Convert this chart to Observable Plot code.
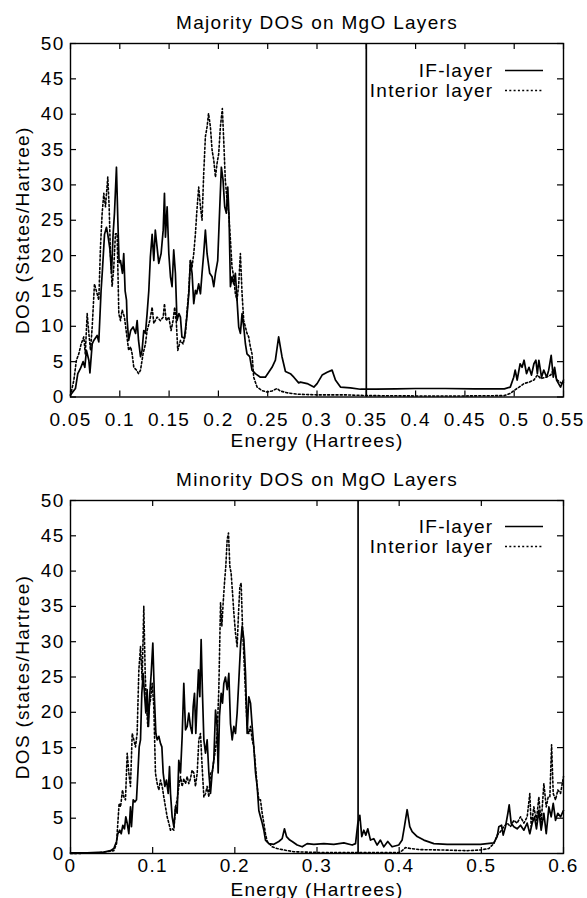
<!DOCTYPE html>
<html><head><meta charset="utf-8">
<script src="https://cdn.jsdelivr.net/npm/d3@7"></script>
<script src="https://cdn.jsdelivr.net/npm/@observablehq/plot@0.6"></script>
<style>html,body{margin:0;padding:0;background:#fff}#c svg{display:block}</style>
</head><body><div id="c"></div><script>
// ---------- data ----------
const majorityIF = [[0.05,0.3],[0.055,1.2],[0.0574,3.3],[0.060,4.0],[0.0628,5.0],[0.0645,4.2],[0.0662,6.6],[0.0686,5.2],[0.0697,3.4],[0.072,7.5],[0.0736,8.0],[0.077,8.7],[0.0787,7.8],[0.081,15],[0.0824,18],[0.0845,23],[0.0865,24],[0.0878,23],[0.0899,21],[0.0916,17.5],[0.0932,23],[0.0946,26],[0.0966,32.5],[0.098,25],[0.0993,19],[0.1007,19.3],[0.1027,17.5],[0.104,20.3],[0.1054,15],[0.1068,13.7],[0.1074,11],[0.109,8],[0.111,9.4],[0.1135,9.9],[0.116,9],[0.1176,10.8],[0.119,8],[0.121,5.7],[0.1226,6.6],[0.1243,9.4],[0.126,9],[0.1277,11.8],[0.1294,15],[0.131,19.8],[0.1328,23],[0.1345,19.3],[0.136,23.6],[0.1378,21.2],[0.1395,18.9],[0.1419,20.3],[0.144,23.6],[0.1453,28.8],[0.1463,22.6],[0.148,26.9],[0.1497,20.3],[0.1514,17],[0.153,15.6],[0.1547,20.8],[0.1564,17.5],[0.158,10.8],[0.16,11.8],[0.1615,11.3],[0.163,8.5],[0.1655,8.3],[0.168,11.3],[0.17,14.6],[0.1716,19.3],[0.1733,17.5],[0.175,13.2],[0.1767,15.1],[0.178,14.6],[0.18,16],[0.1818,14.6],[0.1834,17.5],[0.1851,20.3],[0.1868,23.6],[0.1885,20.3],[0.1912,17.5],[0.1936,17],[0.1953,15.6],[0.197,17.5],[0.1993,19.3],[0.2014,26.9],[0.203,32.5],[0.2047,30.7],[0.2064,26.9],[0.2081,26],[0.2095,29.7],[0.2108,25.5],[0.2122,15.6],[0.2138,17],[0.2155,16],[0.2172,17.5],[0.2189,13.7],[0.2206,9.9],[0.2223,9],[0.224,11.8],[0.2257,9.9],[0.2274,7.5],[0.229,6.1],[0.2318,5.7],[0.2341,3.8],[0.2375,3.3],[0.2426,2.8],[0.2476,2.8],[0.251,3.5],[0.2544,4.2],[0.2578,5.2],[0.2611,8.5],[0.2645,5.7],[0.268,3.6],[0.273,3.3],[0.2765,2.8],[0.2814,2.0],[0.2832,2.1],[0.29,1.9],[0.2968,1.4],[0.3001,1.9],[0.3052,3.1],[0.3103,3.5],[0.3153,3.8],[0.3187,2.4],[0.3238,1.4],[0.3339,1.3],[0.344,1.1],[0.36,1.1],[0.38,1.15],[0.40,1.2],[0.43,1.2],[0.46,1.15],[0.49,1.15],[0.496,1.4],[0.4995,2.8],[0.501,3.8],[0.503,2.4],[0.506,4.7],[0.508,4.2],[0.51,5.2],[0.5125,3.3],[0.515,4.2],[0.5175,3.1],[0.52,4.7],[0.522,5.2],[0.5235,3.3],[0.525,5.2],[0.5277,2.8],[0.53,3.8],[0.533,2.8],[0.535,3.8],[0.5375,5.9],[0.5396,2.8],[0.541,4.2],[0.543,2.4],[0.545,1.9],[0.547,1.4],[0.55,2.4]];
const majorityInterior = [[0.05,0.2],[0.0534,2.4],[0.056,5.2],[0.0584,6.1],[0.0608,7.5],[0.0635,8.5],[0.065,6.1],[0.0669,11.8],[0.0686,9],[0.0703,6.6],[0.072,9.9],[0.0743,16],[0.077,14.6],[0.0787,13.7],[0.0804,21.2],[0.0821,26],[0.0838,28.8],[0.0855,26.9],[0.0878,31.1],[0.0892,26.9],[0.0905,20.3],[0.0922,15.6],[0.0939,18.4],[0.0956,23.1],[0.0973,23.1],[0.099,11.8],[0.1007,10.8],[0.1024,12.3],[0.1047,11.3],[0.1068,9],[0.109,6.6],[0.111,7.1],[0.1125,6.1],[0.1142,4.2],[0.1169,3.8],[0.119,3.3],[0.121,3.8],[0.1236,6.1],[0.126,7.5],[0.1277,9.4],[0.1304,10.8],[0.1328,12.7],[0.1345,10.4],[0.1378,11.3],[0.1412,10.8],[0.144,11.3],[0.1453,13.2],[0.147,10.8],[0.1497,11.3],[0.152,9.4],[0.154,10.8],[0.1557,12.7],[0.1574,10.4],[0.1588,6.6],[0.1615,8],[0.1642,7.5],[0.1666,9],[0.168,11.8],[0.17,15.1],[0.1716,19.3],[0.1733,18.4],[0.175,20.3],[0.1767,23.1],[0.178,26],[0.18,29.7],[0.1818,26.9],[0.1834,25],[0.1851,31.6],[0.1868,36.8],[0.1885,38.2],[0.19,40.1],[0.1919,38.2],[0.1936,34.9],[0.1953,33.5],[0.197,31.1],[0.1986,33],[0.2003,34.4],[0.202,38.2],[0.204,40.8],[0.2054,36.3],[0.207,30.7],[0.2088,27.8],[0.2105,26],[0.2122,22.2],[0.2138,18.4],[0.2155,17],[0.2172,14.6],[0.2189,13.7],[0.2206,16],[0.2223,20.3],[0.224,14.6],[0.2257,10.8],[0.2274,9.9],[0.229,9],[0.2307,8.5],[0.2324,7.1],[0.2341,6.1],[0.2358,2.8],[0.2392,1.4],[0.2443,0.9],[0.2493,0.7],[0.2544,0.85],[0.2595,1.2],[0.2628,0.85],[0.2696,0.6],[0.2797,0.4],[0.30,0.3],[0.33,0.3],[0.35,0.2],[0.40,0.15],[0.45,0.15],[0.49,0.2],[0.496,0.5],[0.4995,0.9],[0.505,1.4],[0.51,1.9],[0.515,2.1],[0.52,2.4],[0.5235,3.1],[0.527,2.6],[0.532,2.8],[0.537,3.1],[0.5396,3.8],[0.5435,2.4],[0.5485,1.9],[0.55,2.1]];
const minorityIF = [[0,0.1],[0.02,0.1],[0.0406,0.2],[0.0487,0.4],[0.0527,0.7],[0.056,1.7],[0.0576,2.8],[0.06,3.3],[0.0617,2.8],[0.0637,4],[0.0657,3.5],[0.0673,5.2],[0.069,4.3],[0.071,2.8],[0.073,6.6],[0.0742,3.8],[0.0763,7.6],[0.0783,7.3],[0.0803,7.6],[0.082,11.4],[0.0836,15.1],[0.0852,16.1],[0.0868,22.7],[0.0884,25.5],[0.09,22.7],[0.0917,19.9],[0.0933,23.2],[0.0949,18],[0.0966,22.7],[0.0982,25.5],[0.1002,29.8],[0.1022,21.8],[0.1039,17],[0.1055,16.1],[0.1075,16.6],[0.1095,15.6],[0.1112,15.1],[0.1128,11.4],[0.1148,9.5],[0.1168,10.4],[0.1189,8.5],[0.1205,12.3],[0.1217,8.5],[0.1237,5.2],[0.1258,3.8],[0.1278,6.6],[0.1298,5.7],[0.1318,13.2],[0.1339,11.4],[0.1359,16.6],[0.1379,24.1],[0.14,17.5],[0.142,18],[0.144,19.9],[0.146,18],[0.148,17],[0.1493,20.8],[0.1509,22.7],[0.1525,17],[0.1542,21.8],[0.1558,26],[0.1574,22.2],[0.159,30.3],[0.1606,22.7],[0.1623,16.1],[0.1643,14.2],[0.1663,16.1],[0.1684,11.4],[0.1704,8.5],[0.1724,11.4],[0.1744,13.2],[0.1765,20.3],[0.1785,18],[0.1797,11.4],[0.1813,19.4],[0.1834,22.7],[0.185,21.3],[0.1866,24.1],[0.1886,25],[0.1907,23.2],[0.1927,25.5],[0.1947,18.4],[0.1968,16.1],[0.1988,18],[0.2008,17],[0.2028,19.9],[0.2049,24.6],[0.2069,29.3],[0.2089,32.2],[0.211,30.3],[0.213,25.5],[0.215,17],[0.217,22.2],[0.2191,21.3],[0.2211,18],[0.2231,15.1],[0.2252,11.4],[0.2272,9.5],[0.2292,6.1],[0.2312,5.2],[0.2333,4.3],[0.2353,3.3],[0.2373,1.9],[0.2414,1.4],[0.2475,1.3],[0.2535,1.7],[0.2576,2.1],[0.2604,3.5],[0.2629,2.4],[0.2669,1.9],[0.2698,1.7],[0.2759,1.2],[0.282,0.95],[0.288,1.4],[0.2962,1.3],[0.3083,1.4],[0.3205,1.3],[0.3327,1.5],[0.3428,1.2],[0.3469,1.4],[0.3497,4.3],[0.3521,5.4],[0.3545,2.4],[0.357,3.3],[0.3594,2.6],[0.3618,3.5],[0.3651,1.9],[0.3691,2.1],[0.3732,1.2],[0.3772,1.9],[0.3813,0.95],[0.3861,1.7],[0.3914,0.95],[0.3995,1.2],[0.4036,1.9],[0.4064,3.8],[0.4097,6.2],[0.4129,3.8],[0.4158,3.1],[0.4219,2.4],[0.43,1.9],[0.4422,1.4],[0.4584,1.3],[0.499,1.3],[0.5152,1.5],[0.5193,2.4],[0.5213,3.8],[0.5246,4],[0.5266,2.6],[0.5294,3.8],[0.5323,5.7],[0.5339,6.9],[0.5363,4.3],[0.5396,3.8],[0.5436,3.5],[0.5477,4],[0.5518,3.3],[0.5558,4.3],[0.559,2.8],[0.5619,4.3],[0.5647,5.2],[0.5671,3.5],[0.57,6.1],[0.5728,3.3],[0.5761,5.7],[0.579,2.8],[0.5822,6.6],[0.585,5.2],[0.5875,7.1],[0.5903,4.7],[0.5931,5.7],[0.5964,5.2],[0.6,6.1]];
const minorityInterior = [[0,0],[0.03,0.05],[0.0527,0.4],[0.056,1.4],[0.0576,4.3],[0.0592,7.1],[0.0609,6.6],[0.0633,9],[0.0649,8],[0.0669,7.6],[0.069,14.2],[0.071,11.4],[0.073,9.5],[0.0751,17],[0.0771,16.1],[0.0791,15.1],[0.0811,17],[0.0832,26],[0.0852,29.3],[0.0872,24.6],[0.0892,35],[0.0909,25.5],[0.0925,20.8],[0.0941,18],[0.0957,20.8],[0.0974,21.8],[0.0994,24.1],[0.1014,20.8],[0.1034,11.4],[0.1055,9.9],[0.1075,9],[0.1095,10.4],[0.1116,9.5],[0.1136,8],[0.1156,6.6],[0.1176,5.2],[0.1197,4.3],[0.1217,3.3],[0.1237,3.5],[0.1258,3.3],[0.1278,6.6],[0.1298,7.6],[0.1318,9.5],[0.1339,10.9],[0.1359,9.5],[0.1379,10.6],[0.14,9.9],[0.142,10.9],[0.144,9.9],[0.146,10.6],[0.148,11.8],[0.1501,11.4],[0.1521,9.5],[0.1542,11.4],[0.1562,16.1],[0.1582,17],[0.1602,12.3],[0.1623,8],[0.1643,8.5],[0.1663,9.5],[0.1684,8],[0.1704,11.4],[0.1724,11.4],[0.1744,13.2],[0.1765,14.7],[0.1785,17],[0.1805,23.2],[0.1826,35.5],[0.1842,32.2],[0.1858,35.5],[0.1874,38.3],[0.189,40.7],[0.1907,44.5],[0.1923,45.4],[0.1939,40.7],[0.1955,39.7],[0.1972,36.9],[0.1988,34.1],[0.2008,31.2],[0.2028,29.3],[0.2045,34.1],[0.2061,37.8],[0.2077,38.3],[0.2093,32.2],[0.211,27.9],[0.213,22.7],[0.215,18],[0.217,17],[0.2191,18],[0.2211,16.1],[0.2231,15.1],[0.2252,12.3],[0.2272,9.5],[0.2292,7.6],[0.2312,7.6],[0.2333,5.7],[0.2353,4.3],[0.2373,2.8],[0.2394,1.7],[0.2454,0.95],[0.2515,0.7],[0.2596,0.5],[0.2718,0.25],[0.30,0.15],[0.35,0.15],[0.40,0.15],[0.4036,0.4],[0.4077,0.85],[0.414,0.7],[0.426,0.55],[0.4503,0.5],[0.4828,0.4],[0.499,0.5],[0.5091,0.7],[0.5152,1.4],[0.5193,2.6],[0.5233,3.1],[0.5274,3.8],[0.5315,4.3],[0.5355,3.8],[0.5396,4.7],[0.5436,4.3],[0.5477,5.2],[0.5518,4.3],[0.5558,5.2],[0.559,8.5],[0.5607,3.8],[0.5639,6.6],[0.5671,4.7],[0.57,8],[0.5728,4.3],[0.5761,9.9],[0.579,6.6],[0.5814,8],[0.5834,8],[0.5855,15.4],[0.5875,8.5],[0.5903,7.6],[0.5931,9],[0.5964,8.5],[0.6,10.9]];

const yTicks = [0,5,10,15,20,25,30,35,40,45,50];
const xTicksMajority = [0.05,0.1,0.15,0.2,0.25,0.3,0.35,0.4,0.45,0.5,0.55];
const xTicksMinority = [0,0.1,0.2,0.3,0.4,0.5,0.6];
const fermiLevel = [0.35];
const legendLabels = ["IF-layer", "Interior layer"];
const titles = ["Majority DOS on MgO Layers", "Minority DOS on MgO Layers"];
const yLabels = ["DOS (States/Hartree)", "DOS (states/Hartree)"];
const xLabel = "Energy (Hartrees)";

// ---------- drawing ----------
const W = 587, ML = 70, MR = 24;
const FONT = "'Liberation Sans', Arial, Helvetica, sans-serif";

function panel(o) {
  const plotH = o.height - o.marginTop - o.marginBottom;
  const plotW = W - ML - MR;
  const T = 6;
  const legend = (index, scales, values, dims) => {
    const g = d3.create("svg:g");
    const xr = dims.width - dims.marginRight;
    const y0 = dims.marginTop + o.legendDy;
    g.append("line").attr("x1", xr - 58).attr("x2", xr - 20).attr("y1", y0).attr("y2", y0)
      .attr("stroke", "#000").attr("stroke-width", 1.7);
    g.append("line").attr("x1", xr - 58).attr("x2", xr - 20).attr("y1", y0 + 20).attr("y2", y0 + 20)
      .attr("stroke", "#000").attr("stroke-width", 1.5).attr("stroke-dasharray", "2,2.3");
    return g.node();
  };
  return Plot.plot({
    width: W, height: o.height,
    marginLeft: ML, marginRight: MR, marginTop: o.marginTop, marginBottom: o.marginBottom,
    style: {fontFamily: FONT, fontSize: "19px", letterSpacing: "1.3px", background: "#fff", color: "#000", overflow: "visible"},
    x: {type: "linear", domain: o.xDomain},
    y: {type: "linear", domain: [0, 50]},
    marks: [
      Plot.axisX(o.xTicks, {anchor: "bottom", tickSize: 0, tickPadding: o.tickPad, tickFormat: d => String(d), label: null}),
      Plot.axisY(yTicks, {anchor: "left", tickSize: 0, tickPadding: 6, tickFormat: d => String(d), label: null}),
      Plot.tickX(o.xTicks, {x: d => d, insetTop: plotH - T, stroke: "#000", strokeWidth: 1.2}),
      Plot.tickX(o.xTicks, {x: d => d, insetBottom: plotH - T, stroke: "#000", strokeWidth: 1.2}),
      Plot.tickY(yTicks, {y: d => d, insetRight: plotW - T, stroke: "#000", strokeWidth: 1.2}),
      Plot.tickY(yTicks, {y: d => d, insetLeft: plotW - T, stroke: "#000", strokeWidth: 1.2}),
      Plot.line(o.intData, {x: d => d[0], y: d => d[1], stroke: "#000", strokeWidth: 1.6, strokeDasharray: "2,2.2"}),
      Plot.line(o.ifData, {x: d => d[0], y: d => d[1], stroke: "#000", strokeWidth: 1.7, strokeLinejoin: "round"}),
      Plot.ruleX(fermiLevel, {x: d => d, stroke: "#000", strokeWidth: 1.7}),
      Plot.frame({stroke: "#000", strokeWidth: 1.4}),
      Plot.text([o.title], {text: d => d, frameAnchor: "top", dy: -20.5, lineAnchor: "middle"}),
      Plot.text([xLabel], {text: d => d, frameAnchor: "bottom", dy: o.xLabelDy, lineAnchor: "middle"}),
      Plot.text([o.yLabel], {text: d => d, frameAnchor: "left", dx: -48, dy: o.yLabelDy, rotate: -90, lineAnchor: "middle", textAnchor: "middle"}),
      Plot.text([legendLabels[0]], {text: d => d, frameAnchor: "top-right", dx: -70, dy: o.legendDy, textAnchor: "end", lineAnchor: "middle"}),
      Plot.text([legendLabels[1]], {text: d => d, frameAnchor: "top-right", dx: -70, dy: o.legendDy + 20, textAnchor: "end", lineAnchor: "middle"}),
      legend
    ]
  });
}

const c = document.getElementById("c");
c.appendChild(panel({
  title: titles[0], yLabel: yLabels[0], xDomain: [0.05, 0.55], xTicks: xTicksMajority,
  ifData: majorityIF, intData: majorityInterior,
  height: 449, marginTop: 43, marginBottom: 52.5, tickPad: 15, xLabelDy: 43.5, yLabelDy: 10, legendDy: 27.5
}));
c.appendChild(panel({
  title: titles[1], yLabel: yLabels[1], xDomain: [0, 0.6], xTicks: xTicksMinority,
  ifData: minorityIF, intData: minorityInterior,
  height: 449, marginTop: 51, marginBottom: 45, tickPad: 5, xLabelDy: 36, yLabelDy: 0, legendDy: 26.5
}));
</script></body></html>
